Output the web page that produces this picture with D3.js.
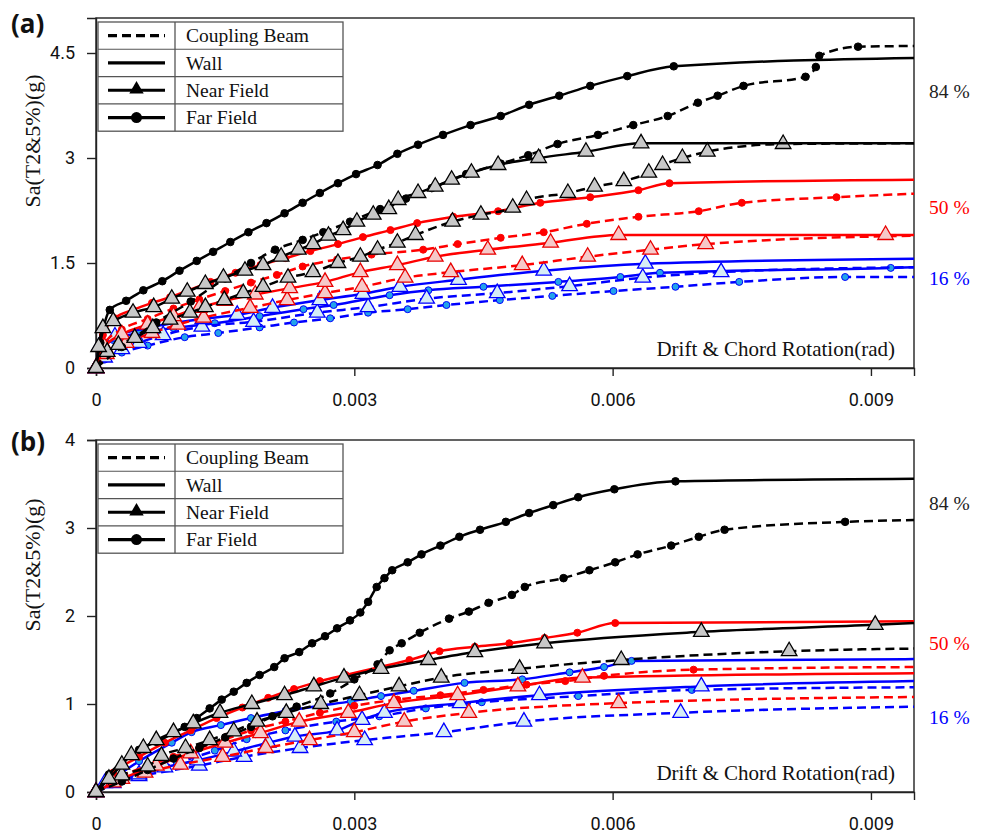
<!DOCTYPE html>
<meta charset="utf-8">
<script src="https://d3js.org/d3.v7.min.js"></script>
<style>
  body { margin: 0; background: #fff; }
  .tick-lbl { font-family: Roboto, "Open Sans", sans-serif; font-size: 18px; fill: #111; }
  .serif { font-family: "Liberation Serif", "Times New Roman", serif; }
</style>
<body>
<svg width="986" height="838"></svg>
<script>
// drift values are in 0.001 rad, Sa in g
var xTickVals = [0, 3, 6, 9];
var xTickLabels = ["0", "0.003", "0.006", "0.009"];
var yTicksA = [0, 1.5, 3, 4.5];
var yTicksB = [0, 1, 2, 3, 4];
var legendNames = ["Coupling Beam", "Wall", "Near Field", "Far Field"];
var pctLabels = ["84 %", "50 %", "16 %"];

// ---- panel (a)
var aBlackWallFar = [[0,0],[0.05,0.36],[0.16,0.83],[0.35,0.96],[0.55,1.11],[0.77,1.24],[0.97,1.39],[1.17,1.53],[1.36,1.66],[1.56,1.80],[1.77,1.94],[1.98,2.07],[2.19,2.21],[2.40,2.36],[2.60,2.50],[2.81,2.64],[3.02,2.77],[3.27,2.90],[3.50,3.06],[3.74,3.19],[4.03,3.33],[4.35,3.47],[4.70,3.60],[5.03,3.76],[5.38,3.89],[5.74,4.03],[6.17,4.17],[6.71,4.31],[9.5,4.43]];
var aBlackCbFar = [[0,0],[0.3,0.3],[0.7,0.65],[1.1,0.95],[1.5,1.28],[1.8,1.5],[2.08,1.69],[2.4,1.83],[2.64,1.94],[2.95,2.09],[3.3,2.27],[3.6,2.42],[3.9,2.57],[4.3,2.77],[4.7,2.92],[5.02,3.04],[5.36,3.2],[5.83,3.33],[6.24,3.47],[6.64,3.6],[6.99,3.79],[7.22,3.89],[7.52,4.03],[8.24,4.16],[8.36,4.3],[8.4,4.46],[8.85,4.59],[9.5,4.6]];
var aBlackWallNear = [[0,0],[0.03,0.3],[0.08,0.57],[0.20,0.67],[0.43,0.79],[0.67,0.87],[0.88,0.99],[1.06,1.09],[1.27,1.20],[1.48,1.29],[1.73,1.39],[1.94,1.47],[2.15,1.59],[2.35,1.69],[2.52,1.77],[2.70,1.89],[2.87,1.97],[3.03,2.09],[3.22,2.19],[3.40,2.27],[3.51,2.40],[3.74,2.50],[3.94,2.59],[4.13,2.69],[4.36,2.79],[4.67,2.90],[5.14,3.00],[5.69,3.09],[6.33,3.21],[9.5,3.21]];
var aBlackCbNear = [[0,0],[0.13,0.23],[0.26,0.33],[0.45,0.43],[0.66,0.57],[0.86,0.69],[1.09,0.79],[1.27,0.87],[1.49,0.97],[1.71,1.07],[1.94,1.16],[2.23,1.29],[2.52,1.37],[2.81,1.50],[3.07,1.59],[3.27,1.69],[3.50,1.79],[3.71,1.90],[4.14,2.09],[4.47,2.19],[4.84,2.29],[5.0,2.40],[5.48,2.50],[5.79,2.59],[6.13,2.67],[6.42,2.79],[6.58,2.90],[6.81,3.00],[7.10,3.09],[7.98,3.20],[9.5,3.21]];
var aRedWallFar = [[0,0],[0.08,0.47],[0.22,0.71],[0.43,0.83],[0.65,0.93],[0.86,1.01],[1.07,1.11],[1.33,1.23],[1.62,1.36],[1.91,1.47],[2.20,1.57],[2.49,1.67],[2.81,1.77],[3.10,1.87],[3.42,1.97],[3.73,2.07],[4.15,2.16],[4.67,2.24],[5.16,2.36],[5.74,2.44],[6.30,2.54],[6.66,2.64],[9.5,2.69]];
var aRedCbFar = [[0,0],[0.1,0.35],[0.3,0.55],[0.6,0.7],[0.9,0.85],[1.2,0.98],[1.5,1.1],[1.8,1.22],[2.1,1.33],[2.4,1.45],[2.8,1.55],[3.2,1.62],[3.8,1.69],[4.2,1.77],[4.7,1.86],[5.2,1.94],[5.7,2.06],[6.3,2.16],[7.0,2.24],[7.5,2.36],[8.6,2.44],[9.5,2.49]];
var aRedWallNear = [[0,0],[0.1,0.3],[0.3,0.48],[0.6,0.62],[0.9,0.74],[1.2,0.86],[1.5,0.96],[1.85,1.05],[2.25,1.14],[2.66,1.23],[3.07,1.37],[3.5,1.47],[3.94,1.59],[4.55,1.69],[5.28,1.79],[6.07,1.90],[9.17,1.90],[9.5,1.90]];
var aRedCbNear = [[0,0],[0.12,0.2],[0.35,0.36],[0.65,0.5],[0.95,0.62],[1.25,0.72],[1.79,0.86],[2.22,0.97],[2.66,1.07],[3.09,1.16],[3.59,1.29],[4.12,1.37],[4.95,1.47],[5.71,1.59],[6.44,1.69],[7.08,1.77],[9.5,1.89]];
var aBlueWallNear = [[0,0],[0.05,0.33],[0.22,0.45],[0.63,0.58],[1.24,0.7],[1.64,0.76],[2.05,0.86],[2.6,0.97],[3.1,1.06],[3.53,1.16],[4.21,1.26],[5.2,1.39],[6.38,1.49],[9.5,1.56]];
var aBlueWallFar = [[0,0],[0.05,0.25],[0.2,0.4],[0.5,0.5],[0.9,0.57],[1.38,0.64],[1.9,0.74],[2.41,0.84],[2.76,0.9],[3.41,1.04],[3.86,1.11],[4.5,1.16],[5.37,1.23],[6.09,1.30],[6.55,1.36],[9.23,1.43],[9.5,1.44]];
var aBlueCbNear = [[0,0],[0.1,0.15],[0.3,0.27],[0.5,0.36],[0.78,0.47],[1.23,0.59],[1.83,0.66],[2.57,0.79],[3.16,0.87],[3.84,0.99],[4.66,1.07],[5.5,1.17],[6.35,1.29],[7.26,1.37],[9.5,1.44]];
var aBlueCbFar = [[0,0],[0.1,0.12],[0.3,0.22],[0.6,0.32],[1.03,0.44],[1.42,0.5],[1.9,0.58],[2.3,0.65],[2.72,0.71],[3.16,0.79],[3.62,0.84],[4.07,0.90],[4.69,0.97],[5.3,1.03],[6.01,1.10],[6.73,1.16],[7.47,1.23],[8.7,1.30],[9.5,1.30]];

// ---- panel (b)
var bBlackWallFar = [[0,0],[0.15,0.2],[0.41,0.42],[0.5,0.48],[0.7,0.57],[0.9,0.67],[1.03,0.74],[1.17,0.84],[1.32,0.95],[1.46,1.05],[1.6,1.14],[1.75,1.24],[1.9,1.33],[2.07,1.42],[2.19,1.52],[2.36,1.59],[2.51,1.69],[2.66,1.77],[2.8,1.86],[2.95,1.95],[3.07,2.04],[3.16,2.16],[3.26,2.33],[3.35,2.43],[3.44,2.52],[3.62,2.61],[3.78,2.7],[4.0,2.8],[4.22,2.9],[4.46,2.98],[4.76,3.07],[5.03,3.17],[5.31,3.26],[5.6,3.35],[6.02,3.44],[6.73,3.53],[9.5,3.56]];
var bBlackCbFar = [[0,0],[0.3,0.12],[0.6,0.25],[0.9,0.38],[1.2,0.5],[1.5,0.62],[1.8,0.74],[2.05,0.86],[2.33,0.97],[2.72,1.12],[3.0,1.28],[3.27,1.45],[3.41,1.61],[3.55,1.69],[3.76,1.81],[4.1,1.97],[4.33,2.05],[4.56,2.15],[4.83,2.24],[4.98,2.33],[5.43,2.43],[5.73,2.52],[6.03,2.61],[6.29,2.7],[6.68,2.8],[7.0,2.9],[7.3,2.98],[8.7,3.07],[9.5,3.09]];
var bBlackWallNear = [[0,0],[0.15,0.15],[0.3,0.31],[0.41,0.42],[0.55,0.5],[0.7,0.59],[0.9,0.68],[1.13,0.78],[1.44,0.9],[1.81,1.0],[2.19,1.1],[2.53,1.2],[2.88,1.3],[3.31,1.4],[3.86,1.5],[4.4,1.59],[5.21,1.69],[7.03,1.82],[9.05,1.9],[9.5,1.92]];
var bBlackCbNear = [[0,0],[0.3,0.19],[0.6,0.29],[0.76,0.41],[1.04,0.5],[1.32,0.59],[1.6,0.69],[1.87,0.8],[2.21,0.9],[2.61,1.0],[3.06,1.1],[3.52,1.2],[4.01,1.3],[4.92,1.4],[6.1,1.5],[8.05,1.6],[9.5,1.63]];
var bRedWallFar = [[0,0],[0.2,0.22],[0.5,0.4],[0.8,0.56],[1.1,0.7],[1.4,0.84],[1.7,0.96],[2.0,1.07],[2.3,1.17],[2.6,1.26],[2.9,1.33],[3.3,1.42],[3.64,1.5],[3.99,1.6],[4.4,1.65],[4.8,1.69],[5.21,1.75],[5.59,1.81],[6.03,1.92],[9.5,1.94]];
var bRedCbFar = [[0,0],[0.3,0.18],[0.6,0.3],[0.9,0.4],[1.2,0.5],[1.5,0.6],[1.8,0.7],[2.2,0.8],[2.6,0.9],[3.0,0.98],[3.5,1.05],[4.0,1.1],[4.5,1.16],[5.0,1.22],[5.45,1.26],[5.9,1.32],[6.94,1.39],[9.5,1.42]];
var bRedWallNear = [[0,0],[0.3,0.15],[0.7,0.3],[1.1,0.44],[1.5,0.56],[1.91,0.67],[2.36,0.8],[2.93,0.9],[3.46,1.01],[4.2,1.1],[4.9,1.2],[5.65,1.3],[9.5,1.35]];
var bRedCbNear = [[0,0],[0.2,0.11],[0.57,0.22],[0.98,0.31],[1.47,0.4],[1.97,0.5],[2.48,0.59],[3.0,0.68],[3.58,0.8],[4.33,0.9],[6.07,1.01],[9.5,1.08]];
var bBlueWallFar = [[0,0],[0.2,0.15],[0.5,0.35],[0.88,0.56],[1.11,0.68],[1.45,0.76],[1.8,0.84],[2.2,0.92],[2.6,0.98],[2.96,1.03],[3.31,1.09],[3.69,1.15],[4.28,1.24],[4.95,1.28],[5.5,1.36],[5.9,1.42],[6.22,1.49],[9.5,1.51]];
var bBlueWallNear = [[0,0],[0.2,0.1],[0.5,0.2],[0.8,0.28],[1.18,0.36],[1.6,0.46],[2.0,0.56],[2.31,0.63],[2.8,0.7],[3.09,0.82],[3.35,0.9],[4.23,1.01],[5.15,1.1],[7.03,1.2],[9.5,1.26]];
var bBlueCbFar = [[0,0],[0.3,0.12],[0.6,0.22],[0.94,0.33],[1.38,0.47],[1.75,0.6],[2.2,0.7],[2.79,0.8],[3.29,0.86],[3.83,0.95],[4.48,1.02],[5.6,1.09],[6.92,1.16],[9.5,1.19]];
var bBlueCbNear = [[0,0],[0.1,0.1],[0.5,0.18],[1.2,0.3],[1.72,0.4],[2.37,0.5],[3.12,0.59],[4.04,0.68],[4.97,0.8],[6.79,0.9],[9.5,0.97]];

var colors = {
  black: {line: "#000", triFill: "#c8c8c8", triStroke: "#000", dotFill: "#000", dotStroke: "#000", r: 3.8},
  red:   {line: "#ff0000", triFill: "#f6c9c9", triStroke: "#e80000", dotFill: "#ff0000", dotStroke: "#ff0000", r: 3.5},
  blue:  {line: "#0000ff", triFill: "#d6edf6", triStroke: "#0000ff", dotFill: "#22a2ea", dotStroke: "#0000ff", r: 3.5}
};

var panels = [
  {label: "(a)", top: 18, bottom: 368, ymax: 5, yTicks: yTicksA, legendTop: 22, pctY: [91, 207, 278], titleY: 141,
   series: [
     [aBlueCbFar, "blue", true, "far"], [aBlueWallFar, "blue", false, "far"],
     [aBlueCbNear, "blue", true, "near"], [aBlueWallNear, "blue", false, "near"],
     [aRedCbFar, "red", true, "far"], [aRedWallFar, "red", false, "far"],
     [aRedCbNear, "red", true, "near"], [aRedWallNear, "red", false, "near"],
     [aBlackCbFar, "black", true, "far"], [aBlackWallFar, "black", false, "far"],
     [aBlackCbNear, "black", true, "near"], [aBlackWallNear, "black", false, "near"]
   ]},
  {label: "(b)", top: 440, bottom: 792, ymax: 4, yTicks: yTicksB, legendTop: 444, pctY: [503, 643, 717], titleY: 565,
   series: [
     [bBlueCbFar, "blue", true, "far"], [bBlueWallFar, "blue", false, "far"],
     [bBlueCbNear, "blue", true, "near"], [bBlueWallNear, "blue", false, "near"],
     [bRedCbFar, "red", true, "far"], [bRedWallFar, "red", false, "far"],
     [bRedCbNear, "red", true, "near"], [bRedWallNear, "red", false, "near"],
     [bBlackCbFar, "black", true, "far"], [bBlackWallFar, "black", false, "far"],
     [bBlackCbNear, "black", true, "near"], [bBlackWallNear, "black", false, "near"]
   ]}
];

var svg = d3.select("svg");
var left = 96, right = 914;
var x = d3.scaleLinear().domain([0, 9.5]).range([left, right]);
var tri = d3.symbol().type(d3.symbolTriangle).size(105);

panels.forEach(function(p) {
  var y = d3.scaleLinear().domain([0, p.ymax]).range([p.bottom, p.top]);
  var g = svg.append("g");

  // frame
  g.append("rect").attr("x", left).attr("y", p.top).attr("width", right - left).attr("height", p.bottom - p.top)
    .attr("fill", "none").attr("stroke", "#222").attr("stroke-width", 1.4);

  // x axis
  var xa = g.append("g").attr("transform", "translate(0," + p.bottom + ")")
    .call(d3.axisBottom(x).tickValues(xTickVals).tickSize(8).tickPadding(17)
      .tickFormat(function(d, i) { return xTickLabels[i]; }));
  xa.select(".domain").attr("stroke", "#222").attr("stroke-width", 1.4);
  xa.selectAll(".tick line").attr("stroke", "#222").attr("stroke-width", 1.4);
  xa.selectAll(".tick text").attr("class", "tick-lbl").attr("fill", "#111");

  // y axis
  var ya = g.append("g").attr("transform", "translate(" + left + ",0)")
    .call(d3.axisLeft(y).tickValues(p.yTicks).tickSize(9).tickPadding(12)
      .tickFormat(function(d) { return String(d); }));
  ya.select(".domain").attr("stroke", "#222").attr("stroke-width", 1.4);
  ya.selectAll(".tick line").attr("stroke", "#222").attr("stroke-width", 1.4);
  ya.selectAll(".tick text").attr("class", "tick-lbl").attr("fill", "#111");

  // axis titles
  g.append("text").attr("class", "serif")
    .attr("transform", "translate(40," + p.titleY + ") rotate(-90)")
    .attr("text-anchor", "middle").attr("font-size", 22).attr("fill", "#111")
    .text("Sa(T2&5%)(g)");
  g.append("text").attr("class", "serif")
    .attr("x", 895).attr("y", p.bottom - 19).attr("dy", "0.35em")
    .attr("text-anchor", "end").attr("font-size", 21).attr("fill", "#111")
    .text("Drift & Chord Rotation(rad)");

  // panel label
  g.append("text").attr("x", 11).attr("y", p.top + (p.label === "(a)" ? 15 : 11))
    .attr("font-family", "'Open Sans', sans-serif").attr("font-weight", "bold").attr("font-size", 26)
    .attr("fill", "#111").text(p.label);

  // series
  var line = d3.line().x(function(d) { return x(d[0]); }).y(function(d) { return y(d[1]); })
    .curve(d3.curveMonotoneX);

  p.series.forEach(function(s) {
    var data = s[0], c = colors[s[1]], dashed = s[2], field = s[3];
    g.append("path").datum(data).attr("d", line)
      .attr("fill", "none").attr("stroke", c.line).attr("stroke-width", 2.5)
      .attr("stroke-dasharray", dashed ? "9,5" : null);
    var pts = data.slice(0, data.length - 1);
    if (field === "near") {
      g.selectAll(null).data(pts).enter().append("path")
        .attr("d", tri)
        .attr("transform", function(d) { return "translate(" + x(d[0]) + "," + y(d[1]) + ")"; })
        .attr("fill", c.triFill).attr("stroke", c.triStroke).attr("stroke-width", 1.3);
    } else {
      g.selectAll(null).data(pts).enter().append("circle")
        .attr("cx", function(d) { return x(d[0]); })
        .attr("cy", function(d) { return y(d[1]); })
        .attr("r", c.r)
        .attr("fill", c.dotFill).attr("stroke", c.dotStroke).attr("stroke-width", 1);
    }
  });

  // percentile labels
  var pctColors = ["#222", "#ff0000", "#0000ff"];
  pctLabels.forEach(function(t, i) {
    g.append("text").attr("class", "serif").attr("x", 929).attr("y", p.pctY[i]).attr("dy", "0.35em")
      .attr("font-size", 19.5).attr("fill", pctColors[i]).text(t);
  });

  // legend table
  var lx0 = 98, lx1 = 343, lxm = 175, rowH = 27.3;
  var lg = g.append("g");
  lg.append("rect").attr("x", lx0).attr("y", p.legendTop).attr("width", lx1 - lx0).attr("height", rowH * 4)
    .attr("fill", "#fff").attr("stroke", "#555").attr("stroke-width", 1.3);
  lg.append("line").attr("x1", lxm).attr("x2", lxm).attr("y1", p.legendTop).attr("y2", p.legendTop + rowH * 4)
    .attr("stroke", "#555").attr("stroke-width", 1.3);
  legendNames.forEach(function(name, i) {
    var ry = p.legendTop + rowH * i;
    if (i > 0) lg.append("line").attr("x1", lx0).attr("x2", lx1).attr("y1", ry).attr("y2", ry)
      .attr("stroke", "#555").attr("stroke-width", 1.1);
    var cy = ry + rowH / 2;
    lg.append("line").attr("x1", 108).attr("x2", 165).attr("y1", cy).attr("y2", cy)
      .attr("stroke", "#000").attr("stroke-width", 3.2)
      .attr("stroke-dasharray", i === 0 ? "9,5" : null);
    if (i === 2) lg.append("path").attr("d", d3.symbol().type(d3.symbolTriangle).size(90))
      .attr("transform", "translate(136.5," + (cy - 1) + ")").attr("fill", "#000");
    if (i === 3) lg.append("circle").attr("cx", 136.5).attr("cy", cy).attr("r", 5.5).attr("fill", "#000");
    lg.append("text").attr("class", "serif").attr("x", 186).attr("y", cy).attr("dy", "0.35em")
      .attr("font-size", 19.5).attr("fill", "#111").text(name);
  });
});
</script>
</body>
